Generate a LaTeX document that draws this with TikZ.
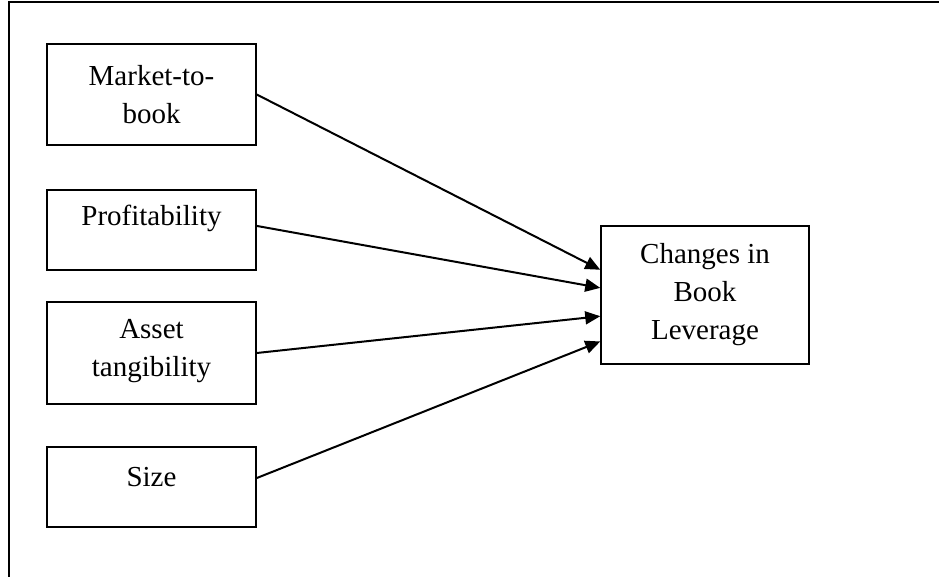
\documentclass[tikz,border=0pt]{standalone}
\usepackage{fontspec}
\setmainfont{Liberation Serif}
\usetikzlibrary{arrows.meta,calc}
\begin{document}
\begin{tikzpicture}[x=1pt,y=-1pt,
  box/.style={draw,line width=1.5pt,rectangle,inner sep=0pt,align=center,
    font=\fontsize{29}{38}\selectfont},
  conn/.style={line width=2pt,-{Triangle[length=15pt,width=13pt]}},
  frame/.style={line width=1.8pt}]
\useasboundingbox (0,0) rectangle (939,577);
% frame
\coordinate (fa) at (9,577);
\coordinate (fb) at (9,2);
\coordinate (fc) at (939,2);
\draw[frame] (fa) -- (fb) -- (fc);
% boxes
\node[box,minimum width=209pt,minimum height=101pt] (m) at (151.5,94.5) {Market-to-\\book};
\node[box,minimum width=209pt,minimum height=80pt] (p) at (151.5,230) {\raisebox{12pt}[\height][\depth]{Profitability}};
\node[box,minimum width=209pt,minimum height=102pt] (a) at (151.5,353) {\raisebox{3pt}[\height][\depth]{\begin{tabular}{@{}c@{}}Asset\\tangibility\end{tabular}}};
\node[box,minimum width=209pt,minimum height=80pt] (s) at (151.5,487) {\raisebox{10pt}[\height][\depth]{Size}};
\node[box,minimum width=208pt,minimum height=138pt] (t) at (705,295) {Changes in\\Book\\Leverage};
% connectors
\draw[conn] (m.east) -- ($(t.north west)!0.319!(t.south west)$);
\draw[conn] ($(p.north east)!0.45!(p.south east)$) -- ($(t.north west)!0.449!(t.south west)$);
\draw[conn] (a.east) -- ($(t.north west)!0.652!(t.south west)$);
\draw[conn] ($(s.north east)!0.39!(s.south east)$) -- ($(t.north west)!0.833!(t.south west)$);
\end{tikzpicture}
\end{document}
